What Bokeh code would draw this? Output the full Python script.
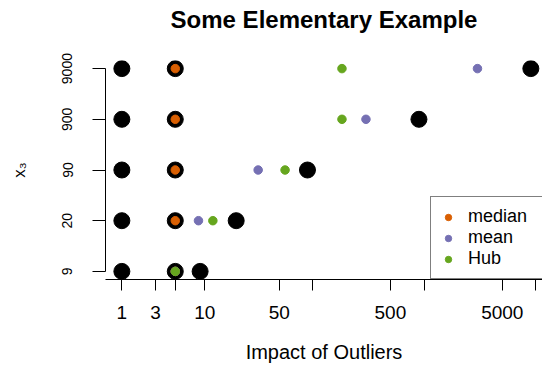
import numpy as np
from bokeh.plotting import figure
from bokeh.models import Range1d, FixedTicker, Legend, LegendItem, CustomJSTickFormatter, LinearAxis
from bokeh.embed import file_html
from bokeh.resources import INLINE

# ---- data ----
x3_values = [9, 20, 90, 900, 9000]
x3_labels = ["9", "20", "90", "900", "9000"]
sample_low = [1, 1, 1, 1, 1]
sample_mid = [5, 5, 5, 5, 5]
median_vals = [5, 5, 5, 5, 5]
mean_vals = [5, 8.67, 32, 302, 3002]
hub_vals = [5, 12, 56.4, 184, 184]
x_ticks = [1, 3, 5, 10, 50, 100, 500, 1000, 5000, 10000]
x_tick_labels = ["1", "3", "", "10", "50", "", "500", "", "5000", ""]
title_text = "Some Elementary Example"

FONT = "Liberation Sans"
C_MED, C_MEAN, C_HUB = "#D95F02", "#7570B3", "#66A61E"


def tr(v):
    return np.log10(np.asarray(v, dtype=float) + 1.0)


rows = np.arange(1, len(x3_values) + 1)

u_min = float(tr(1))
u_max = float(tr(max(x3_values)))
span = u_max - u_min
x_start = u_min - 0.04 * span
x_end = x_start + 1.0685 * span
y_start, y_end = 0.84, 5.16

p = figure(width=542, height=365, output_backend="svg", toolbar_location=None,
           x_range=Range1d(x_start, x_end), y_range=Range1d(y_start, y_end),
           min_border_left=105, min_border_right=0, min_border_top=60, min_border_bottom=86)
p.outline_line_color = None
p.xgrid.visible = False
p.ygrid.visible = False

# grab the default axes before adding anything else
xa = p.below[0]
ya = p.left[0]

# black sample points
for vals in (sample_low, sample_mid, x3_values):
    p.scatter(tr(vals), rows, size=16, color="black")

r_med = p.scatter(tr(median_vals), rows, size=8.5, color=C_MED)
r_mean = p.scatter(tr(mean_vals), rows, size=8.5, color=C_MEAN)
r_hub = p.scatter(tr(hub_vals), rows, size=8.5, color=C_HUB)

# x axis (bottom)
xt = [float(v) for v in tr(x_ticks)]
xa.ticker = FixedTicker(ticks=xt)
xa.formatter = CustomJSTickFormatter(args=dict(tvals=xt, tlabs=x_tick_labels), code="""
let best = 0, d = Infinity;
for (let i = 0; i < tvals.length; i++) { const e = Math.abs(tvals[i] - tick); if (e < d) { d = e; best = i; } }
return tlabs[best];
""")
xa.minor_tick_line_color = None
xa.major_tick_in = 0
xa.major_tick_out = 11
xa.major_label_standoff = 15
xa.major_label_text_font = FONT
xa.major_label_text_font_size = "19px"
xa.major_label_text_color = "black"
xa.axis_label = "Impact of Outliers"
xa.axis_label_text_font = FONT
xa.axis_label_text_font_size = "20px"
xa.axis_label_text_font_style = "normal"
xa.axis_label_text_color = "black"
xa.axis_label_standoff = 19
xa.axis_line_color = "black"
xa.major_tick_line_color = "black"

# y axis
ya.ticker = FixedTicker(ticks=[int(r) for r in rows])
ya.major_label_overrides = {int(r): lab for r, lab in zip(rows, x3_labels)}
ya.bounds = (1, len(x3_values))
ya.minor_tick_line_color = None
ya.major_tick_in = 0
ya.major_tick_out = 13
ya.major_label_orientation = "parallel"
ya.major_label_standoff = 20
ya.major_label_text_font = FONT
ya.major_label_text_font_size = "14px"
ya.major_label_text_color = "black"
ya.axis_label = "x₃"
ya.axis_label_text_font = FONT
ya.axis_label_text_font_size = "17px"
ya.axis_label_text_font_style = "normal"
ya.axis_label_text_color = "black"
ya.axis_label_standoff = 31
ya.axis_line_color = "black"
ya.major_tick_line_color = "black"

# title drawn as the label of a bare top axis (lets it sit high above the frame)
top_axis = LinearAxis(axis_label=title_text, ticker=FixedTicker(ticks=[]),
                      axis_line_color=None, major_tick_line_color=None, minor_tick_line_color=None,
                      major_tick_in=0, major_tick_out=0, minor_tick_in=0, minor_tick_out=0,
                      major_label_text_font_size="0px", major_label_standoff=0,
                      axis_label_standoff=28, axis_label_text_font=FONT,
                      axis_label_text_font_size="24px", axis_label_text_font_style="bold",
                      axis_label_text_color="black")
p.add_layout(top_axis, "above")

legend = Legend(items=[LegendItem(label="median", renderers=[r_med]),
                       LegendItem(label="mean", renderers=[r_mean]),
                       LegendItem(label="Hub", renderers=[r_hub])],
                location=(325, 0), margin=0, padding=9, spacing=0,
                glyph_width=16, glyph_height=20, label_height=20, label_width=90,
                label_standoff=12, label_text_font=FONT, label_text_font_size="18px",
                label_text_baseline="middle", label_text_color="black",
                border_line_color="black", border_line_width=1,
                background_fill_color="white", background_fill_alpha=1.0)
p.add_layout(legend)

open("out.html", "w").write(file_html(p, INLINE))
